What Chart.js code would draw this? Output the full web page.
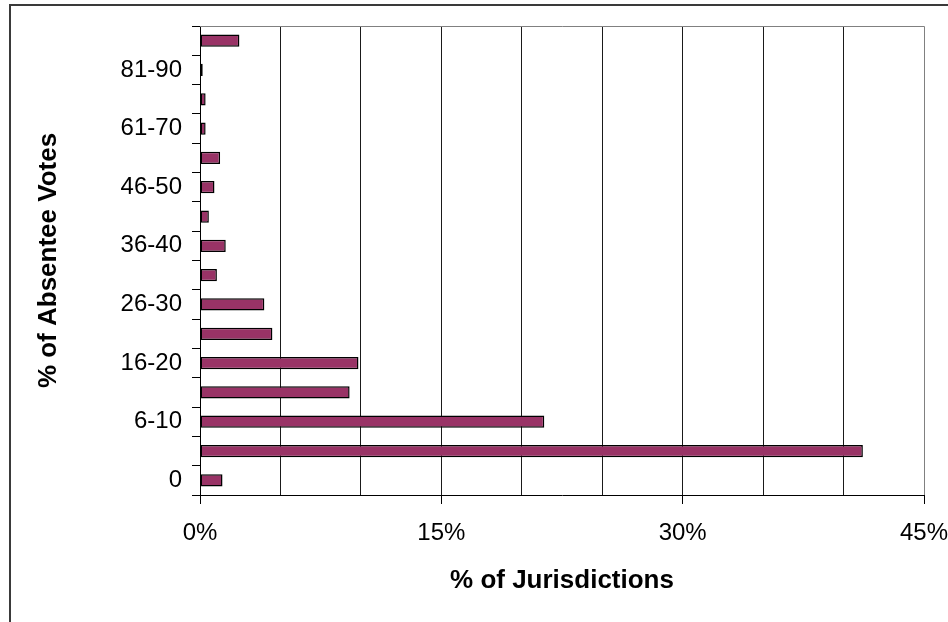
<!DOCTYPE html>
<html>
<head>
<meta charset="utf-8">
<script src="https://cdn.jsdelivr.net/npm/chart.js@4/dist/chart.umd.min.js"></script>
<style>
  html, body { margin: 0; padding: 0; background: #fff; overflow: hidden; width: 948px; height: 622px; }
  canvas { display: block; }
</style>
</head>
<body>
<canvas id="c" width="960" height="640"></canvas>
<script>
// Categories (bottom to top)
const categories = ["0", "1-5", "6-10", "11-15", "16-20", "21-25", "26-30", "31-35",
                    "36-40", "41-45", "46-50", "51-60", "61-70", "71-80", "81-90", "91-100"];
// % of jurisdictions per category
const shares = [1.4, 41.2, 21.4, 9.3, 9.85, 4.5, 4.0, 1.05,
                1.6, 0.55, 0.9, 1.25, 0.35, 0.35, 0.17, 2.45];
// x-axis labelled ticks
const xTickLabels = [0, 15, 30, 45];

const FONT = "'Liberation Sans', Arial, sans-serif";

const framePlugin = {
  id: 'frame',
  beforeDraw(chart) {
    const ctx = chart.ctx;
    ctx.save();
    ctx.fillStyle = '#fff';
    ctx.fillRect(0, 0, chart.width, chart.height);
    ctx.strokeStyle = '#3a3a3a';
    ctx.lineWidth = 2;
    ctx.strokeRect(10, 5, chart.width - 14, chart.height - 8);
    ctx.restore();
  },
  afterDatasetsDraw(chart) {
    const {ctx, chartArea: a} = chart;
    ctx.save();
    ctx.strokeStyle = '#808080';
    ctx.lineWidth = 1;
    ctx.beginPath();
    ctx.moveTo(a.left, a.top + 0.5);
    ctx.lineTo(a.right + 0.5, a.top + 0.5);
    ctx.lineTo(a.right + 0.5, a.bottom);
    ctx.stroke();
    ctx.restore();
  }
};

new Chart(document.getElementById('c'), {
  type: 'bar',
  data: {
    labels: categories,
    datasets: [{
      data: shares,
      backgroundColor: '#993366',
      borderColor: '#000000',
      borderWidth: 1.5,
      borderSkipped: false,
      barPercentage: 0.42,
      categoryPercentage: 1.0
    }]
  },
  options: {
    indexAxis: 'y',
    responsive: false,
    animation: false,
    events: [],
    layout: { padding: { top: 26, right: 36, bottom: 0, left: 0 } },
    plugins: { legend: { display: false }, tooltip: { enabled: false } },
    scales: {
      x: {
        type: 'linear',
        min: 0,
        max: 45,
        afterFit(s) { s.height = 145; s.paddingLeft = 0; s.paddingRight = 0; },
        ticks: {
          stepSize: 5,
          color: '#000',
          font: { family: FONT, size: 24 },
          padding: 15,
          maxRotation: 0,
          autoSkip: false,
          callback: (v) => xTickLabels.includes(v) ? v + '%' : ''
        },
        grid: {
          color: (c) => (c.tick && c.tick.value > 0 && c.tick.value < 45) ? '#1a1a1a' : 'rgba(0,0,0,0)',
          lineWidth: 1,
          tickLength: 9,
          tickColor: (c) => (c.tick && xTickLabels.includes(c.tick.value)) ? '#000' : 'rgba(0,0,0,0)',
          drawTicks: true
        },
        border: { display: true, color: '#000', width: 1 },
        title: {
          display: true,
          text: '% of Jurisdictions',
          color: '#000',
          font: { family: FONT, size: 26, weight: 'bold' },
          padding: { top: 0, bottom: 44 }
        }
      },
      y: {
        type: 'category',
        reverse: true,
        offset: true,
        afterFit(s) { s.width = 200; s.paddingTop = 0; s.paddingBottom = 0; },
        ticks: {
          color: '#000',
          font: { family: FONT, size: 24 },
          padding: 10,
          autoSkip: false,
          callback: function (v, i) { return i % 2 === 0 ? this.getLabelForValue(v) : ''; }
        },
        grid: {
          offset: true,
          drawOnChartArea: false,
          drawTicks: true,
          tickLength: 8,
          tickColor: '#000'
        },
        border: { display: true, color: '#000', width: 1 },
        title: {
          display: true,
          text: '% of Absentee Votes',
          color: '#000',
          font: { family: FONT, size: 26, weight: 'bold' },
          padding: { top: 33, bottom: 0 }
        }
      }
    }
  },
  plugins: [framePlugin]
});
</script>
</body>
</html>
